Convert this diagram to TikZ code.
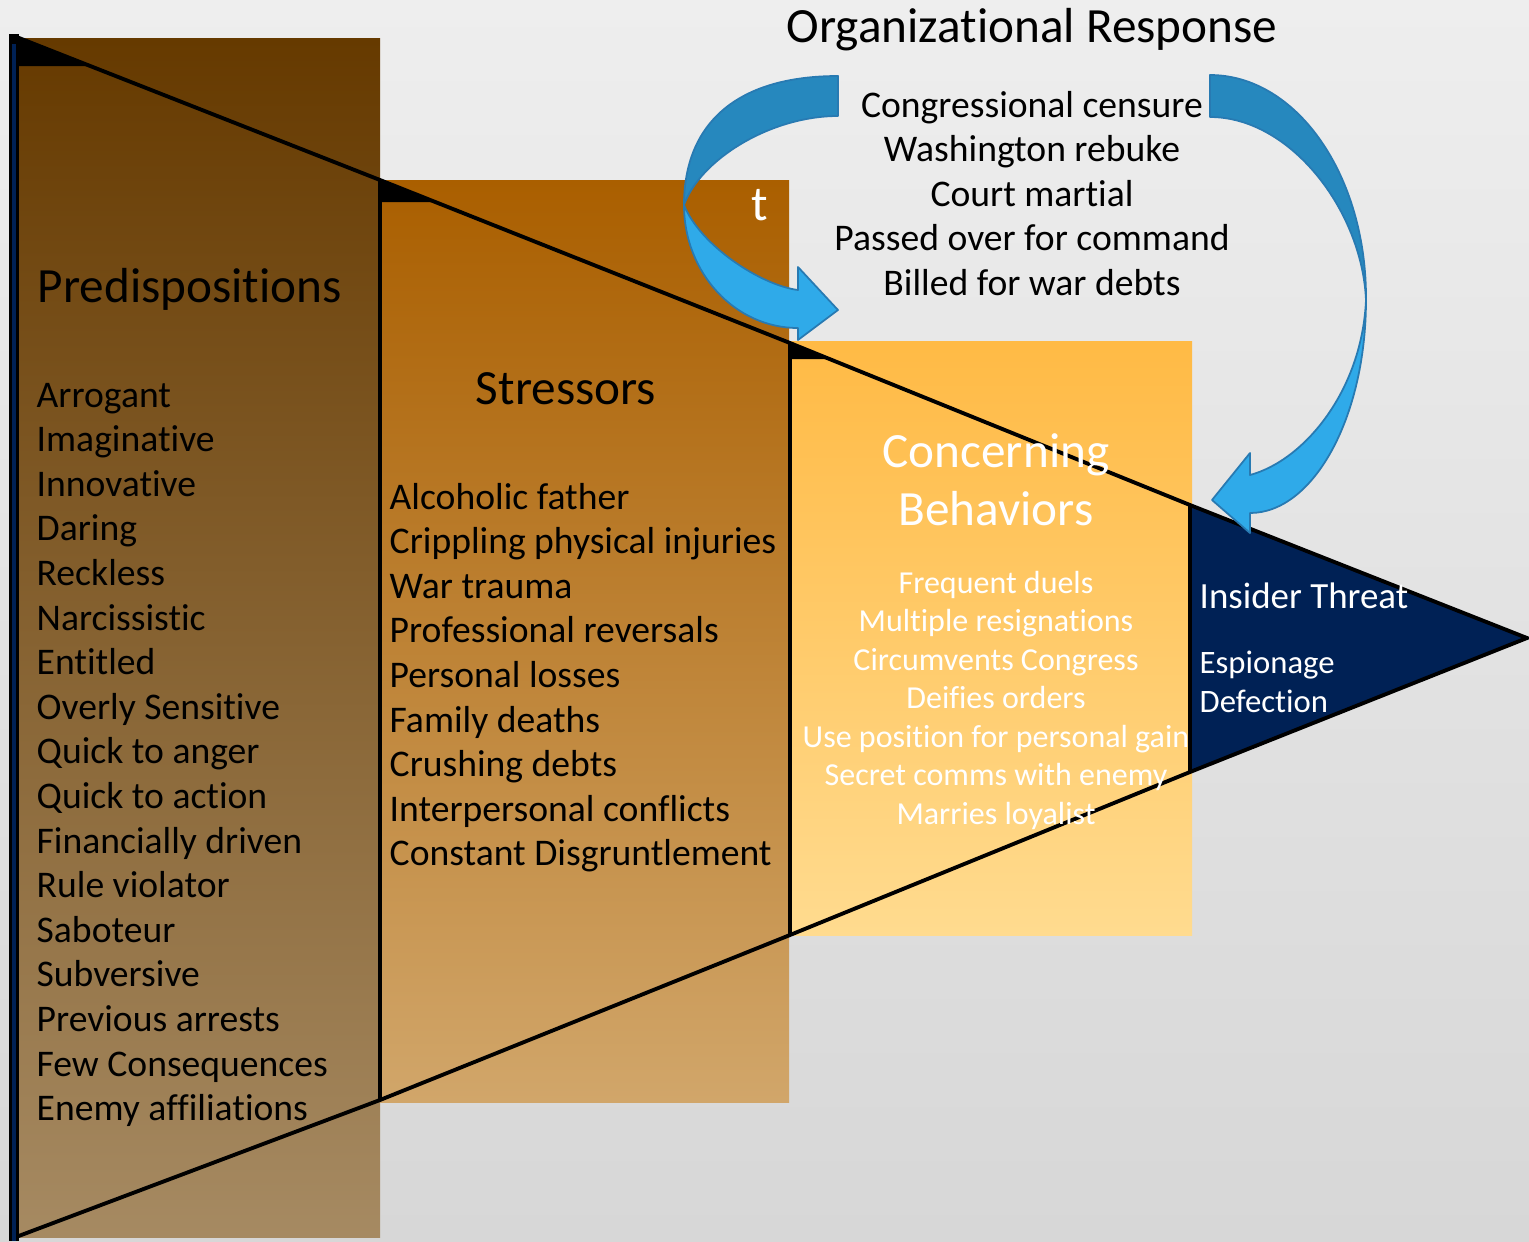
\documentclass[tikz,border=0pt]{standalone}
\usepackage{fontspec}
\setmainfont{Carlito}[Ligatures=CommonOff]

\definecolor{bgTop}{RGB}{238,238,238}
\definecolor{bgMid}{RGB}{245,245,245}
\definecolor{bgBottom}{RGB}{215,215,215}
\definecolor{predTop}{RGB}{102,58,0}
\definecolor{predBottom}{RGB}{166,138,98}
\definecolor{stressTop}{RGB}{170,95,0}
\definecolor{stressBottom}{RGB}{209,166,106}
\definecolor{concernTop}{RGB}{255,186,69}
\definecolor{concernBottom}{RGB}{255,219,143}
\definecolor{threatBlue}{RGB}{0,33,85}
\definecolor{arrowBack}{RGB}{38,136,190}
\definecolor{arrowFront}{RGB}{47,170,233}
\definecolor{arrowLine}{RGB}{40,122,178}

\tikzset{
	headText/.style={inner sep=0pt,font=\fontsize{14}{16}\selectfont},
	listText/.style={inner sep=0pt,font=\fontsize{10.7}{12.7}\selectfont},
	smallText/.style={inner sep=0pt,text=white,font=\fontsize{9.1}{11}\selectfont},
	threatText/.style={inner sep=0pt,text=white,font=\fontsize{10.5}{12.5}\selectfont},
	edgeLine/.style={line width=1.1pt,line join=miter},
	arrowBody/.style={draw=arrowLine,line width=0.5pt,line join=round}
}

\begin{document}
\begin{tikzpicture}[x=0.01cm,y=-0.01cm]
	\shade[top color=bgTop,middle color=bgMid,bottom color=bgBottom] (0,0) rectangle (1529,1241);
	\useasboundingbox (0,0) rectangle (1529,1241);

	\shade[top color=predTop,bottom color=predBottom] (18,38) rectangle (380,1237);
	\shade[top color=stressTop,bottom color=stressBottom] (380,180) rectangle (789,1102);
	\shade[top color=concernTop,bottom color=concernBottom] (789,341) rectangle (1192,935);

	\coordinate (t0) at (14,36);
	\coordinate (t1) at (380,180);
	\coordinate (t2) at (790,343);
	\coordinate (t3) at (1190,505);
	\coordinate (tip) at (1527,638);
	\coordinate (b0) at (16,1237);
	\coordinate (b1) at (380,1100);
	\coordinate (b2) at (790,935);
	\coordinate (b3) at (1190,772);

	\fill[threatBlue] (t3) -- (tip) -- (b3) -- cycle;
	\draw[edgeLine] (t0) -- (t1) -- (t2) -- (t3) -- (tip) -- (b3) -- (b2) -- (b1) -- (b0);
	\draw[edgeLine] (t1) -- (b1);
	\draw[edgeLine] (t2) -- (b2);
	\draw[edgeLine] (t3) -- (b3);

	\newcommand\drawWedge[3]{\fill[black] (#1,#2) -- ++(#3*2.5,#3) -- ++(-#3*2.5,0) -- cycle;}
	\drawWedge{16}{36}{30}
	\drawWedge{380}{180}{22}
	\drawWedge{790}{343}{16}

	\draw[line width=2.6pt] (14,34) -- (14,1241);
	\draw[threatBlue,line width=1.1pt] (14,44) -- (14,1241);

	\filldraw[arrowBody,fill=arrowBack] (838,76) .. controls (735,76) and (684,125) .. (684,205)
		.. controls (700,160) and (770,116) .. (838,116) -- cycle;
	\filldraw[arrowBody,fill=arrowFront] (684,205) .. controls (684,273) and (735,328) .. (798,328)
		-- (798,340) -- (838,310) -- (798,267) -- (798,290)
		.. controls (760,285) and (700,245) .. (684,205) -- cycle;

	\filldraw[arrowBody,fill=arrowBack] (1210,75) .. controls (1297,75) and (1367,176) .. (1366,300)
		.. controls (1362,210) and (1290,117) .. (1210,117) -- cycle;
	\filldraw[arrowBody,fill=arrowFront] (1366,300) .. controls (1366,418) and (1313,513) .. (1250,513)
		-- (1250,533) -- (1212,500) -- (1250,453) -- (1250,475)
		.. controls (1305,460) and (1362,390) .. (1366,300) -- cycle;

	\node[headText,anchor=base] (orgTitle) at (1032,42) {Organizational Response};
	\foreach \txt [count=\i] in {Congressional censure, Washington rebuke, Court martial, Passed over for command, Billed for war debts}
		\node[listText,anchor=base] (org\i) at (1032,{117+44.6*(\i-1)}) {\txt};

	\node[headText,anchor=base west] (predTitle) at (37,302) {Predispositions};
	\foreach \txt [count=\i] in {Arrogant, Imaginative, Innovative, Daring, Reckless, Narcissistic, Entitled, Overly Sensitive, Quick to anger, Quick to action, Financially driven, Rule violator, Saboteur, Subversive, Previous arrests, Few Consequences, Enemy affiliations}
		\node[listText,anchor=base west] (pred\i) at (36,{407+44.6*(\i-1)}) {\txt};

	\node[headText,text=white,anchor=base] (stressMark) at (760,220) {t};
	\node[headText,anchor=base] (stressTitle) at (566,404) {Stressors};
	\foreach \txt [count=\i] in {Alcoholic father, Crippling physical injuries, War trauma, Professional reversals, Personal losses, Family deaths, Crushing debts, Interpersonal conflicts, Constant Disgruntlement}
		\node[listText,anchor=base west] (stress\i) at (389,{509+44.6*(\i-1)}) {\txt};

	\node[headText,text=white,anchor=base] (concernTitleA) at (996,467) {Concerning};
	\node[headText,text=white,anchor=base] (concernTitleB) at (996,525) {Behaviors};
	\foreach \txt [count=\i] in {Frequent duels, Multiple resignations, Circumvents Congress, Deifies orders, Use position for personal gain, Secret comms with enemy, Marries loyalist}
		\node[smallText,anchor=base] (concern\i) at (996,{593+38.5*(\i-1)}) {\txt};

	\node[threatText,anchor=base west] (threatTitle) at (1199,608) {Insider Threat};
	\node[threatText,anchor=base west,font=\fontsize{9.3}{11}\selectfont] (threat1) at (1199,673) {Espionage};
	\node[threatText,anchor=base west,font=\fontsize{9.3}{11}\selectfont] (threat2) at (1199,712) {Defection};
\end{tikzpicture}
\end{document}
